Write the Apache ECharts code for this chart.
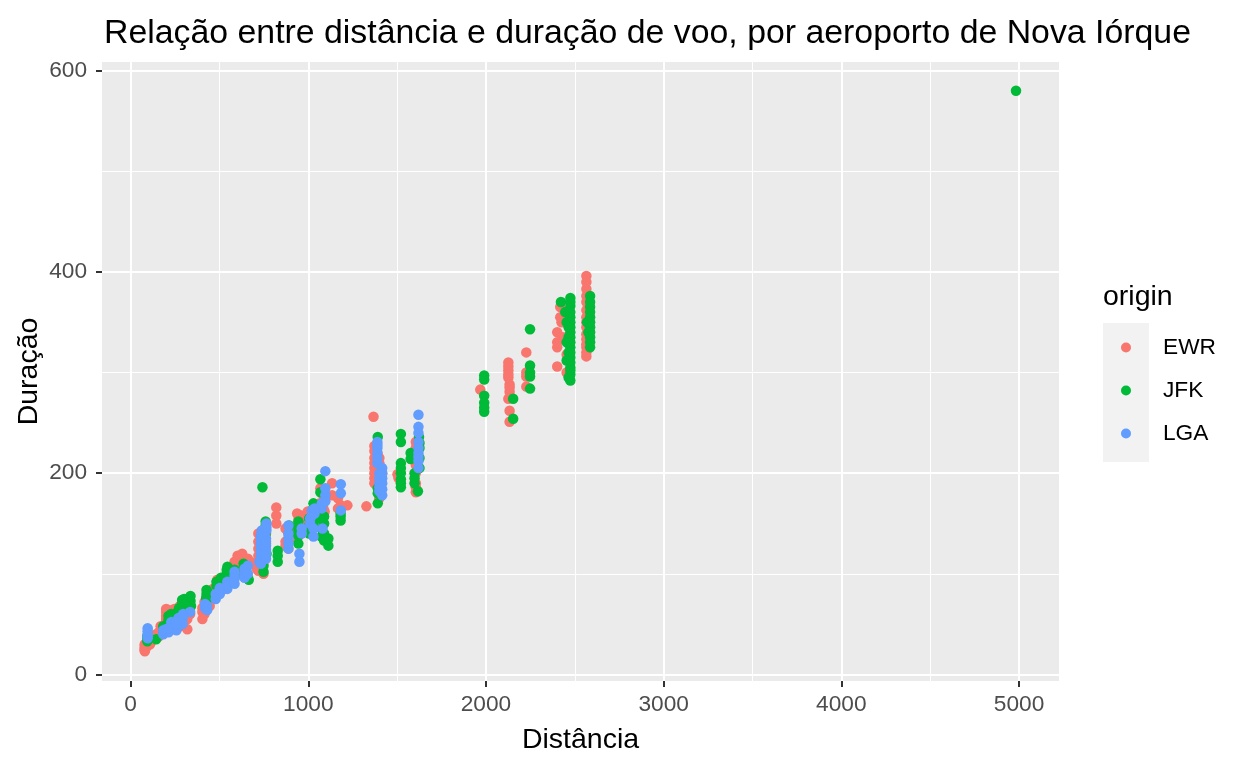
<!DOCTYPE html>
<html>
<head>
<meta charset="utf-8">
<script src="https://cdn.jsdelivr.net/npm/echarts@6/dist/echarts.min.js"></script>
<style>html,body{margin:0;padding:0;background:#fff}#chart{width:1248px;height:768px}</style>
</head>
<body>
<div id="chart"></div>
<script>
var origins = ['EWR', 'JFK', 'LGA'];
var colors = ['#F8766D', '#00BA38', '#619CFF'];

// [distância, duração]
var ewr = [
  [80,23],[80,25],[80,27],[80,30],[94,28],[110,30],[116,33],[143,36],[160,38],[169,44],[200,53],[200,58],[200,62],
  [209,55],[212,60],[229,50],[246,65],[266,57],[277,62],[282,48],[284,68],[300,52],[319,45],[335,60],[404,55],
  [404,62],[416,67],[416,60],[445,68],[463,80],[488,82],[488,90],[529,85],[529,95],[544,98],[569,100],[585,104],
  [602,110],[602,118],[628,120],[645,112],[660,96],[708,107],[711,105],[719,110],[719,125],[719,132],[725,115],
  [746,128],[746,118],[748,100],[762,140],[820,158],[820,166],[872,132],[888,125],[937,145],[937,135],[946,150],
  [963,158],[997,155],[1008,150],[1023,148],[1065,170],[1068,185],[1085,165],[1092,172],[1134,190],[1167,175],
  [1183,168],[1220,168],[1327,167],
  [80,24],[80,26],[80,29],[116,35],[143,40],[160,42],[169,48],[200,55],[200,65],[209,50],[212,64],[246,60],
  [277,68],[284,62],[300,58],[319,55],[404,66],[416,72],[445,74],[463,85],[488,94],[529,90],[544,100],[569,106],
  [585,112],[602,114],[628,112],[719,118],[719,103],[746,122],[746,110],[762,130],[872,145],[937,140],[946,138],
  [997,162],[1008,158],[1065,160],[1085,178],[1092,162],[1167,165],[1134,178],
  [266,64],[282,56],[229,45],[937,160],[946,155],[963,150],[888,140],[872,128],[820,150],[660,115],[645,105],
  [569,96],[585,100],[628,105],[711,112],[719,140],[746,135],
  [1367,256],[1372,227],[1372,215],[1372,205],[1372,195],[1389,220],[1400,210],[1400,185],[1400,175],[1416,200],
  [1372,222],[1372,210],[1372,200],[1372,190],[1400,215],[1400,205],[1400,195],[1400,180],
  [1502,199],[1508,195],[1605,231],[1605,215],[1605,200],[1605,190],[1605,181],[1605,225],[1605,208],[1605,186],
  [1968,283],[2126,310],[2126,302],[2126,295],[2133,288],[2133,281],[2126,274],[2133,262],[2133,251],[2227,320],
  [2227,296],[2227,286],[2401,340],[2401,325],[2401,306],[2418,365],[2425,350],[2434,335],[2454,318],[2454,300],
  [2126,306],[2126,298],[2133,285],[2227,300],[2401,330],[2418,355],
  [2565,396],[2565,383],[2565,370],[2565,355],[2565,345],[2565,333],[2565,325],[2565,316],
  [2565,390],[2565,376],[2565,362],[2565,350],[2565,338],[2565,328],[2565,320]
];
var jfk = [
  [94,33],[94,38],[144,35],[187,42],[184,48],[213,50],[213,58],[228,55],[264,55],[273,62],[290,70],[301,75],
  [337,73],[337,78],[340,68],[425,72],[427,80],[433,82],[483,88],[509,90],[541,100],[545,107],[585,98],[636,105],
  [665,94],[740,112],[742,186],[748,102],[760,148],[760,152],[765,120],[828,112],[828,123],[892,140],[944,130],
  [944,145],[1005,148],[1028,160],[1029,170],[1068,181],[1068,194],[1069,155],[1074,137],[1089,133],[1089,157],
  [1113,128],[1182,160],[1182,153],
  [94,36],[187,45],[213,54],[228,60],[264,62],[273,66],[290,74],[301,70],[425,76],[427,84],[483,92],[509,96],
  [541,104],[636,110],[740,118],[748,108],[760,140],[828,118],[944,138],[1005,155],[1028,165],[1069,160],
  [1074,145],[1089,150],[1182,157],
  [264,48],[290,62],[228,45],[892,148],[944,152],[1005,140],[1029,150],[1069,165],[1089,140],[1113,135],
  [760,130],[760,125],[636,98],[585,104],[509,85],
  [1391,236],[1391,185],[1391,170],[1391,180],[1521,239],[1521,231],[1521,210],[1521,205],[1521,194],[1521,186],
  [1521,200],[1521,190],[1576,214],[1576,220],[1598,200],[1598,190],[1598,195],[1617,182],[1623,236],[1626,225],
  [1626,205],[1626,215],[1626,230],
  [1990,297],[1990,277],[1990,270],[1990,261],[1990,265],[1990,293],[2153,274],[2153,254],
  [2248,343],[2248,307],[2248,296],[2248,284],[2248,300],
  [2422,370],[2446,360],[2454,350],[2465,345],[2465,335],[2475,374],[2475,366],[2475,355],[2475,340],[2475,325],
  [2475,315],[2475,305],[2475,298],[2475,292],[2454,330],[2465,320],
  [2475,370],[2475,360],[2475,350],[2475,345],[2475,335],[2475,330],[2475,320],[2475,310],[2475,302],[2465,295],
  [2454,312],
  [2586,376],[2586,365],[2586,355],[2586,345],[2586,335],[2586,325],[2576,340],[2569,350],
  [2586,370],[2586,360],[2586,350],[2586,340],[2586,330],
  [4983,580]
];
var lga = [
  [96,36],[96,40],[96,46],[184,40],[198,45],[214,42],[229,48],[254,46],[258,44],[269,52],[292,55],[296,60],
  [335,62],[419,66],[431,64],[479,75],[502,86],[502,80],[544,85],[544,92],[585,98],[585,102],[641,105],[660,108],
  [725,112],[733,118],[733,125],[733,130],[733,138],[738,143],[762,120],[762,128],[762,135],[764,150],[764,143],
  [888,148],[888,135],[888,125],[950,112],[963,140],[1010,150],[1020,163],[1029,137],[1035,160],[1076,165],
  [1080,145],[1096,202],[1096,178],[1183,189],[1183,163],
  [96,38],[96,43],[184,44],[214,46],[229,52],[254,50],[269,56],[292,58],[419,70],[431,68],[479,80],[502,84],
  [544,88],[585,95],[641,100],[733,115],[733,122],[733,128],[733,134],[738,140],[762,124],[762,132],[764,146],
  [888,130],[963,145],[1010,155],[1020,158],[1035,165],[1096,185],[1183,180],
  [292,50],[258,52],[733,110],[762,115],[888,140],[950,120],[1029,145],[1076,170],[1096,172],[641,96],[660,100],
  [585,90],
  [1389,231],[1389,225],[1389,220],[1389,210],[1400,200],[1400,190],[1400,182],[1416,205],[1416,195],[1416,178],
  [1389,228],[1389,215],[1400,195],[1400,186],[1416,200],[1416,190],[1416,184],
  [1620,258],[1620,246],[1620,231],[1620,220],[1620,212],[1620,205],[1620,240],[1620,225],[1620,216]
];

var xTicks = [0, 1000, 2000, 3000, 4000, 5000];
var xMinor = [500, 1500, 2500, 3500, 4500];
var yTicks = [0, 200, 400, 600];
var yMinor = [100, 300, 500];

var gridLines = [];
for (var v of xMinor) gridLines.push({xAxis: v, lineStyle: {width: 1}});
for (var v of yMinor) gridLines.push({yAxis: v, lineStyle: {width: 1}});
for (var v of xTicks) gridLines.push({xAxis: v, lineStyle: {width: 2}});
for (var v of yTicks) gridLines.push({yAxis: v, lineStyle: {width: 2}});

var pointSeries = [ewr, jfk, lga].map(function (d, i) {
  return {
    name: origins[i],
    type: 'scatter',
    data: d,
    symbolSize: 10.5,
    itemStyle: {color: colors[i], opacity: 1},
    z: 3
  }
});

var font = 'Liberation Sans, Arial, sans-serif';
var option = {
  animation: false,
  textStyle: {fontFamily: font},
  title: {
    text: 'Relação entre distância e duração de voo, por aeroporto de Nova Iórque',
    left: 99,
    top: 12,
    textStyle: {fontSize: 33.85, fontWeight: 'normal', color: '#000'}
  },
  grid: {
    left: 102, right: 189, top: 62, bottom: 87,
    show: true, backgroundColor: '#EBEBEB', borderWidth: 0
  },
  legend: {
    data: origins,
    orient: 'vertical',
    left: 1116,
    top: 331,
    icon: 'circle',
    itemWidth: 10,
    itemHeight: 10,
    itemGap: 20,
    textStyle: {fontSize: 22.7, color: '#000', padding: [0, 0, 0, 27]}
  },
  graphic: [
    {type: 'rect', left: 1103, top: 323, shape: {width: 46, height: 139}, style: {fill: '#F2F2F2'}, z: -1},
    {type: 'text', left: 1103, top: 283, style: {text: 'origin', fontSize: 28.5, fill: '#000', fontFamily: font}}
  ],
  xAxis: {
    type: 'value',
    min: -161,
    max: 5225,
    name: 'Distância',
    nameLocation: 'middle',
    nameGap: 45,
    nameTextStyle: {fontSize: 28.5, color: '#000'},
    axisLine: {show: true, onZero: false, lineStyle: {color: 'rgba(0,0,0,0)'}},
    axisTick: {show: true, customValues: xTicks, length: 6, lineStyle: {color: '#333333', width: 2}},
    axisLabel: {customValues: xTicks, fontSize: 22.7, color: '#4D4D4D', margin: 12,
      formatter: function (v) { return String(v) }},
    splitLine: {show: false}
  },
  yAxis: {
    type: 'value',
    min: -6.5,
    max: 608.5,
    name: 'Duração',
    nameLocation: 'middle',
    nameGap: 58,
    nameMoveOverlap: false,
    nameRotate: 90,
    nameTextStyle: {fontSize: 28.5, color: '#000'},
    axisLine: {show: true, onZero: false, lineStyle: {color: 'rgba(0,0,0,0)'}},
    axisTick: {show: true, customValues: yTicks, length: 6, lineStyle: {color: '#333333', width: 2}},
    axisLabel: {customValues: yTicks, fontSize: 22.7, color: '#4D4D4D', margin: 15,
      formatter: function (v) { return String(v) }},
    splitLine: {show: false}
  },
  series: [{
    type: 'scatter',
    data: [],
    z: 1,
    markLine: {
      silent: true,
      symbol: 'none',
      z: 1,
      label: {show: false},
      lineStyle: {color: '#FFFFFF', type: 'solid'},
      data: gridLines
    }
  }].concat(pointSeries)
};

var chart = echarts.init(document.getElementById('chart'));
chart.setOption(option);
</script>
</body>
</html>
